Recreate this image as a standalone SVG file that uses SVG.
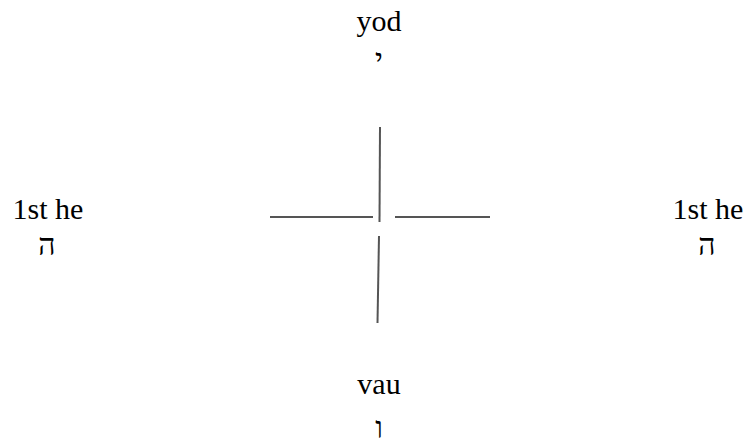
<svg xmlns="http://www.w3.org/2000/svg" width="748" height="443" viewBox="0 0 748 443">
<style>
.ln{stroke:#555;stroke-width:2;fill:none;stroke-linecap:butt}
</style>
<rect width="748" height="443" fill="#fff"/>
<g id="cross" class="connectors">
<line class="ln" x1="380" y1="127" x2="379.5" y2="222"/>
<line class="ln" x1="379" y1="236" x2="377.5" y2="323"/>
<line class="ln" x1="270" y1="217" x2="373" y2="217"/>
<line class="ln" x1="395" y1="217" x2="490" y2="217"/>
</g>
<g font-family="Liberation Serif, Times New Roman, serif" font-size="30" text-anchor="middle" fill="#000">
<g id="yod">
<text x="379" y="31">yod</text>
<text x="379" y="70">י</text>
</g>
<g id="he-left">
<text x="48" y="219">1st he</text>
<text x="47" y="255">ה</text>
</g>
<g id="he-right">
<text x="708" y="219">1st he</text>
<text x="707" y="255">ה</text>
</g>
<g id="vau">
<text x="379" y="394">vau</text>
<text x="379" y="438">ו</text>
</g>
</g>
</svg>
